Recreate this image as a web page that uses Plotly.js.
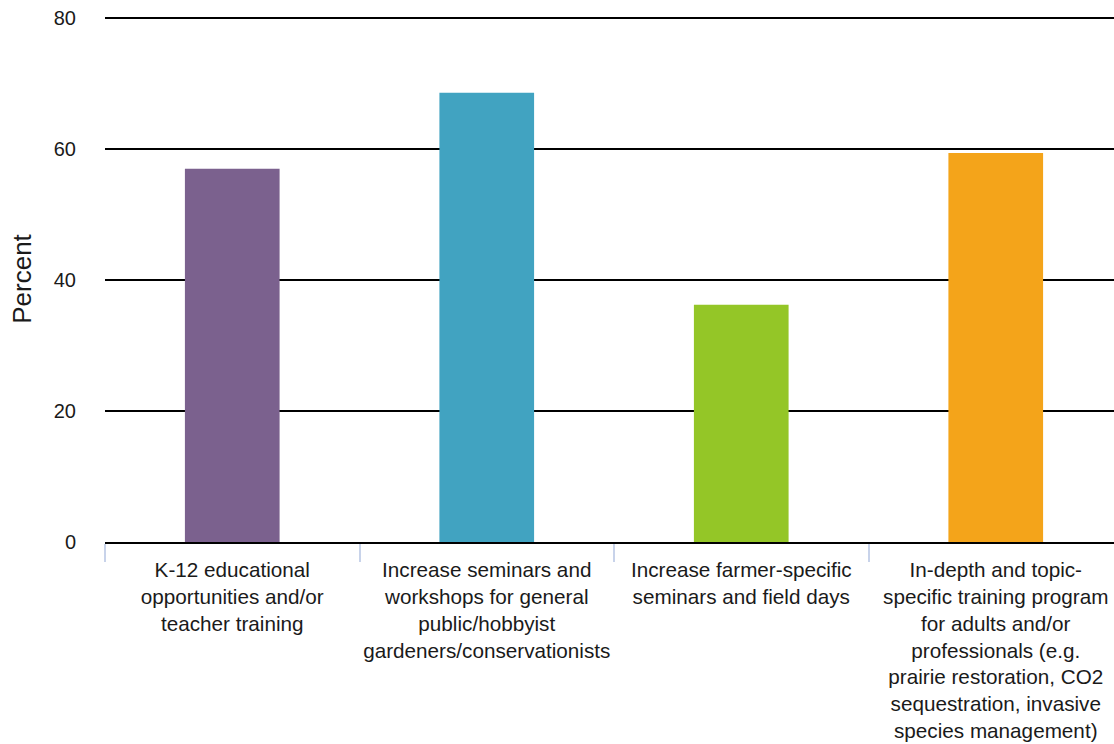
<!DOCTYPE html>
<html>
<head>
<meta charset="utf-8">
<script src="https://cdn.plot.ly/plotly-3.0.1.min.js"></script>
<style>
html, body { margin: 0; padding: 0; overflow: hidden; background: #fff; }
#chart { width: 1125px; height: 744px; }
</style>
</head>
<body>
<div id="chart"></div>
<script>
var categories = [
  "K-12 educational<br>opportunities and/or<br>teacher training",
  "Increase seminars and<br>workshops for general<br>public/hobbyist<br>gardeners/conservationists",
  "Increase farmer-specific<br>seminars and field days",
  "In-depth and topic-<br>specific training program<br>for adults and/or<br>professionals (e.g.<br>prairie restoration, CO2<br>sequestration, invasive<br>species management)"
];
var percentValues = [57.0, 68.6, 36.2, 59.4];
var barColors = ["#7B618E", "#41A3C1", "#94C627", "#F4A41A"];
var yTickValues = [0, 20, 40, 60, 80];

var trace = {
  type: "bar",
  x: categories,
  y: percentValues,
  marker: { color: barColors },
  width: 0.372,
  hoverinfo: "x+y"
};

var layout = {
  width: 1125,
  height: 744,
  margin: { l: 105, r: 2, t: 16, b: 202 },
  paper_bgcolor: "#ffffff",
  plot_bgcolor: "#ffffff",
  showlegend: false,
  font: { family: "Liberation Sans, Arial, sans-serif", size: 21, color: "#1a1a1a" },
  xaxis: {
    type: "category",
    range: [-0.5, 3.5],
    showgrid: false,
    zeroline: false,
    showline: true,
    linecolor: "#000000",
    linewidth: 2,
    ticks: "outside",
    tickson: "boundaries",
    ticklen: 18,
    tickwidth: 1.5,
    tickcolor: "#C8D3EA",
    tickangle: 0,
    ticklabelstandoff: 8,
    automargin: false,
    tickfont: { size: 20.7, color: "#1a1a1a" }
  },
  yaxis: {
    range: [0, 80.3],
    tickvals: yTickValues,
    ticktext: yTickValues.map(String),
    showgrid: true,
    gridcolor: "#000000",
    gridwidth: 2,
    zeroline: false,
    showline: false,
    ticks: "",
    ticklabelstandoff: 28,
    automargin: false,
    tickfont: { size: 20, color: "#1a1a1a" },
    title: { text: "Percent", font: { size: 26, color: "#1a1a1a" }, standoff: 14 }
  }
};

Plotly.newPlot("chart", [trace], layout, { displayModeBar: false, responsive: false });
</script>
</body>
</html>
